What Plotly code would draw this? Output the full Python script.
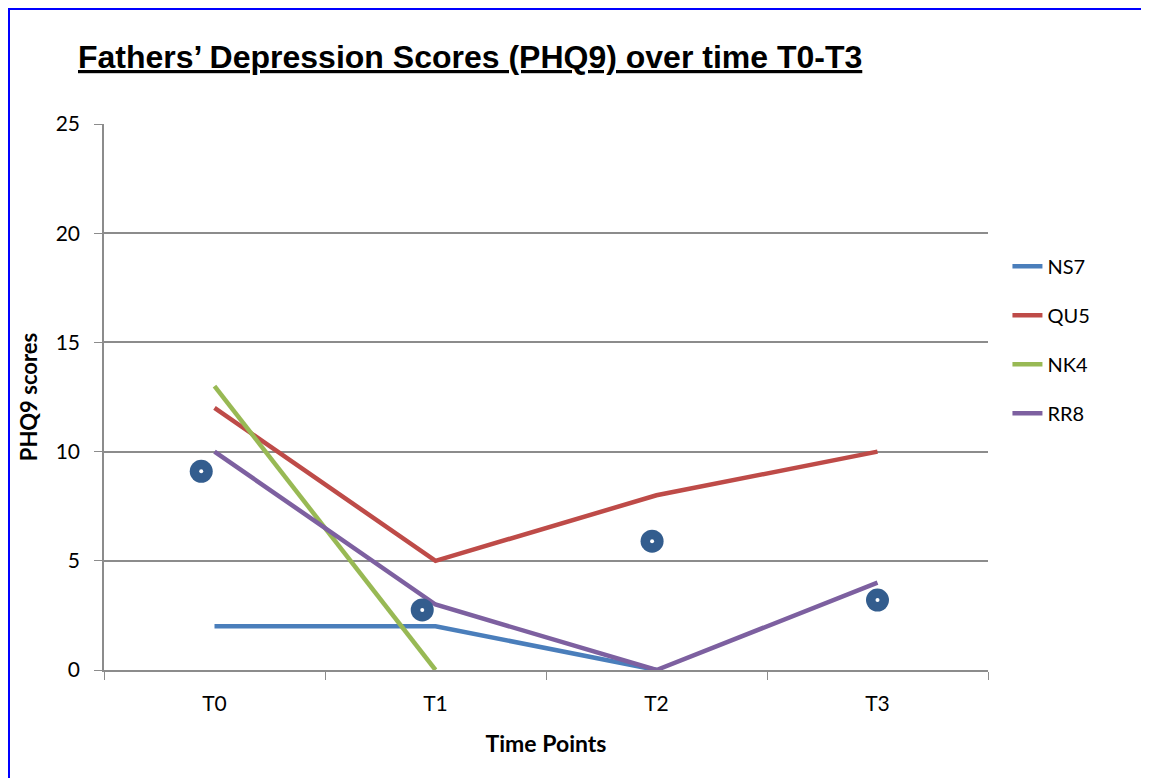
import plotly.graph_objects as go

# time points and scores
time_labels = ['T0', 'T1', 'T2', 'T3']
time_pos = [0, 1, 2, 3]

ns7 = [2, 2, 0, None]
qu5 = [12, 5, 8, 10]
nk4 = [13, 0, None, None]
rr8 = [10, 3, 0, 4]

# the round blue dots (slightly left of each time point)
dot_x = [-0.06, 0.94, 1.98, 3.0]
dot_y = [9.1, 2.75, 5.9, 3.2]

y_ticks = [0, 5, 10, 15, 20, 25]
x_bounds = [-0.5, 0.5, 1.5, 2.5, 3.5]

series = [('NS7', ns7, '#4A7EBB'),
          ('QU5', qu5, '#BE4B48'),
          ('NK4', nk4, '#98B954'),
          ('RR8', rr8, '#7D60A0')]

base_font = 'Lato, Calibri, sans-serif'

fig = go.Figure()

for name, vals, col in series:
    fig.add_trace(go.Scatter(
        x=time_pos, y=vals, name=name, mode='lines',
        line=dict(color=col, width=4.5),
        legendgroup=name,
    ))

# blue dots with a little white centre
fig.add_trace(go.Scatter(x=dot_x, y=dot_y, mode='markers', showlegend=False,
                         marker=dict(size=23, color='#335D8E')))
fig.add_trace(go.Scatter(x=dot_x, y=dot_y, mode='markers', showlegend=False,
                         marker=dict(size=4, color='white')))

# page body has ~8px margin, so the figure is a bit smaller than the window
fig.update_layout(
    width=1141, height=770,
    margin=dict(l=96, r=161, t=116, b=108),
    paper_bgcolor='white', plot_bgcolor='white',
    font=dict(family=base_font, size=20, color='black'),
    showlegend=True,
    legend=dict(x=1.022, xanchor='left', y=0.775, yanchor='top',
                font=dict(size=20), tracegroupgap=20,
                itemwidth=30, bgcolor='rgba(0,0,0,0)'),
    annotations=[dict(
        text='<b><u>Fathers\u2019 Depression Scores (PHQ9) over time T0-T3</u></b>',
        xref='paper', yref='paper', x=-0.0315, y=1.123, xanchor='left', yanchor='middle',
        showarrow=False, font=dict(family='Arial, Liberation Sans, sans-serif', size=32))],
    shapes=[dict(type='rect', xref='paper', yref='paper',
                 x0=(1 - 96) / 884, x1=1.5, y0=-0.5, y1=661 / 546,
                 line=dict(color='blue', width=2), layer='above')],
)

fig.update_xaxes(
    range=[-0.5, 3.5], tickvals=time_pos, ticktext=time_labels, ticks='',
    showgrid=False, zeroline=False,
    showline=True, linecolor='#8C8C8C', linewidth=1.5,
    minor=dict(tickvals=x_bounds, ticks='outside', ticklen=8, tickcolor='#8C8C8C', showgrid=False),
    ticklabelstandoff=14,
    title=dict(text='<b>Time Points</b>', font=dict(size=23), standoff=22),
    tickfont=dict(size=21),
)
fig.update_yaxes(
    range=[0, 25], tickvals=y_ticks, ticks='outside', ticklen=8, tickcolor='#8C8C8C',
    showgrid=True, gridcolor='#8C8C8C', gridwidth=1.5, zeroline=False,
    showline=True, linecolor='#8C8C8C', linewidth=1.5,
    ticklabelstandoff=10,
    title=dict(text='<b>PHQ9 scores</b>', font=dict(size=22), standoff=12),
    tickfont=dict(size=21),
)

fig.write_html('out.html')
